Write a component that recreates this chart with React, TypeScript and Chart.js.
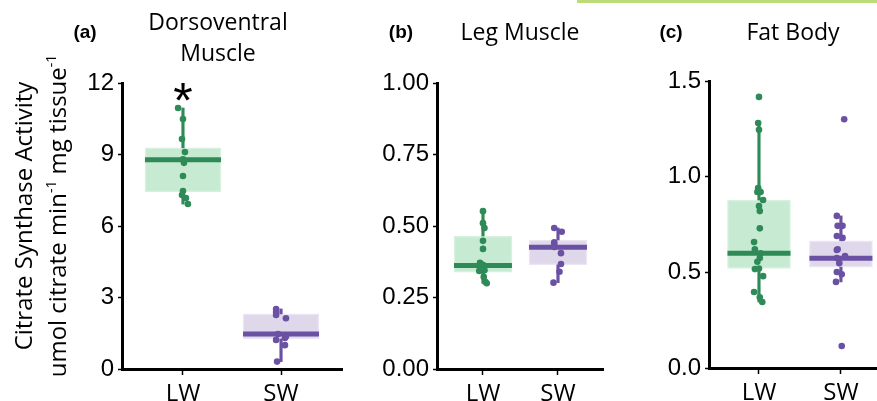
import React, { useEffect, useRef } from "react";
import { Chart, registerables } from "chart.js";

Chart.register(...registerables);

// ---------- data ----------
const groups = ["LW", "SW"];

// (a) Dorsoventral muscle
const dvLW = [10.95, 10.49, 9.65, 9.1, 8.8, 8.65, 8.1, 7.47, 7.3, 7.17, 6.92];
const dvLWJitter = [-0.05, 0.0, -0.01, 0.02, 0.0, 0.01, 0.0, 0.0, -0.01, 0.03, 0.05];
const dvSW = [2.52, 2.39, 2.27, 2.13, 1.47, 1.36, 1.3, 1.22, 1.0, 0.31];
const dvSWJitter = [-0.05, -0.05, -0.05, 0.05, -0.03, 0.05, 0.04, -0.05, 0.04, -0.04];
// [lower whisker, q1, median, q3, upper whisker]
const dvLWBox = [6.92, 7.43, 8.78, 9.28, 10.95];
const dvSWBox = [0.31, 1.26, 1.47, 2.31, 2.52];
const dvTicks = [0, 3, 6, 9, 12];

// (b) Leg muscle
const legLW = [0.552, 0.51, 0.493, 0.448, 0.42, 0.371, 0.364, 0.343, 0.345, 0.322, 0.305, 0.3];
const legLWJitter = [0.0, 0.0, 0.02, 0.0, 0.0, -0.04, 0.0, -0.05, 0.02, 0.01, 0.03, 0.05];
const legSW = [0.493, 0.48, 0.443, 0.435, 0.427, 0.405, 0.367, 0.34, 0.302];
const legSWJitter = [-0.05, 0.05, -0.05, -0.05, -0.05, 0.04, 0.04, 0.02, -0.06];
const legLWBox = [0.3, 0.339, 0.362, 0.465, 0.552];
const legSWBox = [0.302, 0.364, 0.426, 0.451, 0.493];
const legTicks = [0, 0.25, 0.5, 0.75, 1.0];

// (c) Fat body
const fatLW = [1.417, 1.28, 1.245, 0.94, 0.92, 0.92, 0.878, 0.847, 0.82, 0.73, 0.658, 0.62, 0.6, 0.575, 0.555, 0.517, 0.52, 0.48, 0.397, 0.37, 0.345];
const fatLWJitter = [0.0, -0.01, 0.0, -0.01, -0.02, 0.02, 0.05, 0.0, 0.01, 0.01, -0.06, -0.05, 0.02, 0.01, -0.02, -0.05, 0.0, 0.05, -0.06, 0.01, 0.04];
const fatSW = [1.3, 0.795, 0.743, 0.743, 0.69, 0.68, 0.617, 0.62, 0.585, 0.575, 0.548, 0.502, 0.49, 0.45, 0.115];
const fatSWJitter = [0.04, -0.05, -0.04, 0.02, -0.05, 0.02, -0.05, -0.04, 0.05, -0.05, -0.02, -0.05, 0.01, -0.06, 0.01];
const fatLWBox = [0.345, 0.52, 0.6, 0.878, 1.28];
const fatSWBox = [0.45, 0.527, 0.573, 0.665, 0.795];
const fatTicks = [0, 0.5, 1.0, 1.5];

// ---------- styling ----------
const GREEN = "#2e8b57";
const PURPLE = "#6a51a3";
const GREEN_FILL = "#c7ead2";
const PURPLE_FILL = "#dfd7ea";
const GREEN_EDGE = "#d8f1df";
const PURPLE_EDGE = "#ebe6f2";
const TITLE_FONT = "'Open Sans', 'Noto Sans', sans-serif";
const TICK_FONT = "'Liberation Sans', Arial, sans-serif";

type Seg = { t: string; sup?: boolean };
type TextItem = {
  x: number;
  y: number;
  text?: string;
  segs?: Seg[];
  font: string;
  size: number;
  weight?: string;
  rotate?: boolean;
  baseline?: CanvasTextBaseline;
};

type PanelProps = {
  canvasLeft: number;
  canvasWidth: number;
  plotLeft: number;
  plotRight: number;
  plotTop: number;
  plotBottom: number;
  xMin: number;
  xMax: number;
  yMax: number;
  ticks: number[];
  decimals: number;
  boxWidth: number;
  lw: number[];
  lwJ: number[];
  sw: number[];
  swJ: number[];
  lwBox: number[];
  swBox: number[];
  texts: TextItem[];
  star?: boolean;
};

function drawItems(chart: any, p: PanelProps) {
  const ctx: CanvasRenderingContext2D = chart.ctx;
  ctx.save();
  ctx.fillStyle = "#000";
  for (const it of p.texts) {
    const x = it.x - p.canvasLeft;
    const y = it.y;
    const w = it.weight || "normal";
    ctx.save();
    if (it.segs) {
      const full = `${w} ${it.size}px ${it.font}`;
      const small = `${w} ${Math.round(it.size * 0.58)}px ${it.font}`;
      let total = 0;
      const widths = it.segs.map((s) => {
        ctx.font = s.sup ? small : full;
        const m = ctx.measureText(s.t).width;
        total += m;
        return m;
      });
      ctx.translate(x, y);
      if (it.rotate) ctx.rotate(-Math.PI / 2);
      ctx.textBaseline = "alphabetic";
      ctx.textAlign = "left";
      let cx = -total / 2;
      it.segs.forEach((s, i) => {
        ctx.font = s.sup ? small : full;
        ctx.fillText(s.t, cx, s.sup ? -it.size * 0.42 : 0);
        cx += widths[i];
      });
    } else if (it.text) {
      ctx.font = `${w} ${it.size}px ${it.font}`;
      ctx.textAlign = "center";
      ctx.textBaseline = it.baseline || "middle";
      ctx.translate(x, y);
      if (it.rotate) ctx.rotate(-Math.PI / 2);
      ctx.fillText(it.text, 0, 0);
    }
    ctx.restore();
  }
  if (p.star) {
    const xs = chart.scales.x.getPixelForValue(0);
    ctx.font = `normal 50px ${TICK_FONT}`;
    ctx.textAlign = "center";
    ctx.textBaseline = "middle";
    ctx.fillText("*", xs, 104);
  }
  ctx.restore();
}

function Panel(p: PanelProps) {
  const ref = useRef<HTMLCanvasElement>(null);
  useEffect(() => {
    if (!ref.current) return;
    const pts = (vals: number[], jit: number[], g: number) =>
      vals.map((v, i) => ({ x: g + jit[i], y: v }));
    const yAxisWidth = p.plotLeft - p.canvasLeft;
    const rightPad = p.canvasLeft + p.canvasWidth - p.plotRight;
    const xAxisHeight = 401 - p.plotBottom;
    const chart = new Chart(ref.current, {
      type: "scatter",
      data: {
        datasets: [
          {
            type: "bar",
            data: [
              { x: 0, y: [p.lwBox[1], p.lwBox[3]] },
              { x: 1, y: [p.swBox[1], p.swBox[3]] },
            ],
            backgroundColor: [GREEN_FILL, PURPLE_FILL],
            borderColor: [GREEN_EDGE, PURPLE_EDGE],
            borderWidth: 1.5,
            borderSkipped: false,
            barThickness: p.boxWidth,
            grouped: false,
            order: 4,
          } as any,
          {
            type: "bar",
            data: [
              { x: 0, y: [p.lwBox[3], p.lwBox[4]] },
              { x: 0, y: [p.lwBox[0], p.lwBox[1]] },
              { x: 1, y: [p.swBox[3], p.swBox[4]] },
              { x: 1, y: [p.swBox[0], p.swBox[1]] },
            ],
            backgroundColor: [GREEN, GREEN, PURPLE, PURPLE],
            borderWidth: 0,
            barThickness: 2.5,
            grouped: false,
            order: 3,
          } as any,
          {
            type: "scatter",
            data: [
              { x: 0, y: p.lwBox[2] },
              { x: 1, y: p.swBox[2] },
            ],
            pointStyle: "line",
            radius: p.boxWidth / 2,
            borderWidth: 5,
            borderColor: [GREEN, PURPLE],
            order: 2,
          } as any,
          {
            type: "scatter",
            data: pts(p.lw, p.lwJ, 0),
            backgroundColor: GREEN,
            borderWidth: 0,
            radius: 3.3,
            order: 1,
          } as any,
          {
            type: "scatter",
            data: pts(p.sw, p.swJ, 1),
            backgroundColor: PURPLE,
            borderWidth: 0,
            radius: 3.3,
            order: 1,
          } as any,
        ],
      },
      options: {
        animation: false,
        responsive: false,
        maintainAspectRatio: false,
        events: [],
        layout: {
          autoPadding: false,
          padding: { left: 0, right: rightPad, top: p.plotTop, bottom: 0 },
        },
        plugins: {
          legend: { display: false },
          tooltip: { enabled: false },
          title: { display: false },
        },
        scales: {
          x: {
            type: "linear",
            min: p.xMin,
            max: p.xMax,
            offset: false,
            afterBuildTicks: (s: any) => {
              s.ticks = [{ value: 0 }, { value: 1 }];
            },
            afterFit: (s: any) => {
              s.height = xAxisHeight;
            },
            ticks: {
              callback: (v: any) => groups[Math.round(Number(v))],
              font: { family: TITLE_FONT, size: 24 },
              color: "#000",
              padding: 5,
              maxRotation: 0,
              autoSkip: false,
            },
            grid: {
              drawOnChartArea: false,
              drawTicks: true,
              tickLength: 6,
              tickWidth: 1.5,
              tickColor: "#000",
              offset: false,
            },
            border: { display: true, width: 3, color: "#000" },
          } as any,
          y: {
            type: "linear",
            min: 0,
            max: p.yMax,
            afterBuildTicks: (s: any) => {
              s.ticks = p.ticks.map((v) => ({ value: v }));
            },
            afterFit: (s: any) => {
              s.width = yAxisWidth;
            },
            ticks: {
              callback: (v: any) => Number(v).toFixed(p.decimals),
              font: { family: TICK_FONT, size: 24 },
              color: "#000",
              padding: 4,
            },
            grid: {
              drawOnChartArea: false,
              drawTicks: true,
              tickLength: 4,
              tickWidth: 1.5,
              tickColor: "#000",
            },
            border: { display: true, width: 3, color: "#000" },
          } as any,
        },
      },
      plugins: [
        {
          id: "panelTexts",
          afterDraw: (c: any) => drawItems(c, p),
        },
      ],
    });
    return () => chart.destroy();
  }, []);
  return (
    <canvas
      ref={ref}
      width={p.canvasWidth}
      height={401}
      style={{
        position: "absolute",
        left: p.canvasLeft,
        top: 0,
        width: p.canvasWidth,
        height: 401,
      }}
    />
  );
}

export default function App() {
  const panelA: PanelProps = {
    canvasLeft: 0,
    canvasWidth: 345,
    plotLeft: 122,
    plotRight: 342,
    plotTop: 83,
    plotBottom: 369,
    xMin: -0.622,
    xMax: 1.622,
    yMax: 12,
    ticks: dvTicks,
    decimals: 0,
    boxWidth: 76,
    lw: dvLW,
    lwJ: dvLWJitter,
    sw: dvSW,
    swJ: dvSWJitter,
    lwBox: dvLWBox,
    swBox: dvSWBox,
    star: true,
    texts: [
      { x: 85, y: 33, text: "(a)", font: TICK_FONT, size: 19, weight: "bold" },
      { x: 218, y: 23, text: "Dorsoventral", font: TITLE_FONT, size: 23 },
      { x: 218, y: 54, text: "Muscle", font: TITLE_FONT, size: 23 },
      {
        x: 32,
        y: 216,
        rotate: true,
        font: TITLE_FONT,
        size: 24,
        segs: [{ t: "Citrate Synthase Activity" }],
      },
      {
        x: 66,
        y: 216,
        rotate: true,
        font: TITLE_FONT,
        size: 24,
        segs: [
          { t: "umol citrate min" },
          { t: "-1", sup: true },
          { t: " mg tissue" },
          { t: "-1", sup: true },
        ],
      },
    ],
  };
  const panelB: PanelProps = {
    canvasLeft: 345,
    canvasWidth: 260,
    plotLeft: 437,
    plotRight: 603,
    plotTop: 83,
    plotBottom: 369,
    xMin: -0.613,
    xMax: 1.6,
    yMax: 1.0,
    ticks: legTicks,
    decimals: 2,
    boxWidth: 58,
    lw: legLW,
    lwJ: legLWJitter,
    sw: legSW,
    swJ: legSWJitter,
    lwBox: legLWBox,
    swBox: legSWBox,
    texts: [
      { x: 401, y: 33, text: "(b)", font: TICK_FONT, size: 19, weight: "bold" },
      { x: 520, y: 33, text: "Leg Muscle", font: TITLE_FONT, size: 23 },
    ],
  };
  const panelC: PanelProps = {
    canvasLeft: 605,
    canvasWidth: 290,
    plotLeft: 709,
    plotRight: 895,
    plotTop: 81,
    plotBottom: 368,
    xMin: -0.61,
    xMax: 1.66,
    yMax: 1.5,
    ticks: fatTicks,
    decimals: 1,
    boxWidth: 63,
    lw: fatLW,
    lwJ: fatLWJitter,
    sw: fatSW,
    swJ: fatSWJitter,
    lwBox: fatLWBox,
    swBox: fatSWBox,
    texts: [
      { x: 671, y: 33, text: "(c)", font: TICK_FONT, size: 19, weight: "bold" },
      { x: 793, y: 33, text: "Fat Body", font: TITLE_FONT, size: 23 },
    ],
  };
  return (
    <div
      style={{
        position: "fixed",
        left: 0,
        top: 0,
        width: 877,
        height: 401,
        overflow: "hidden",
        background: "#fff",
      }}
    >
      <div
        style={{
          position: "absolute",
          left: 577,
          top: 0,
          width: 300,
          height: 3,
          background: "#bcdc7a",
        }}
      />
      <Panel {...panelA} />
      <Panel {...panelB} />
      <Panel {...panelC} />
    </div>
  );
}
